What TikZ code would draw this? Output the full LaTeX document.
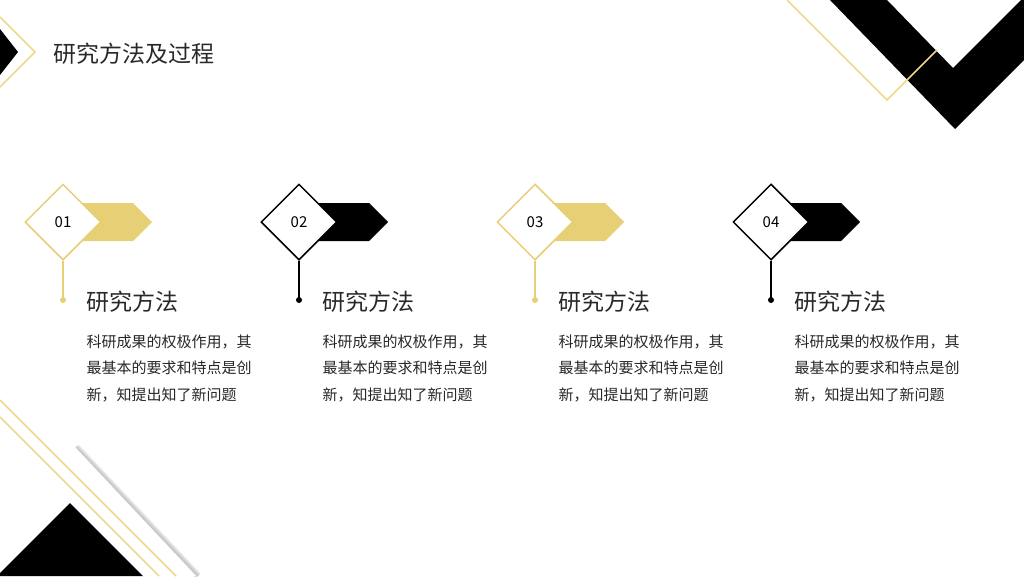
\documentclass[tikz,border=0pt]{standalone}
\usepackage{fontspec}
\setmainfont{Noto Sans CJK SC}
\usetikzlibrary{calc,shapes.geometric}
\definecolor{gold}{RGB}{230,207,116}
\definecolor{goldline}{RGB}{236,218,140}
\definecolor{txt}{RGB}{40,40,40}
\tikzset{
	numbox/.style={diamond,draw=#1,line width=1.5pt,fill=white,minimum width=76pt,minimum height=76pt,inner sep=0pt,font=\fontsize{15}{15}\selectfont},
	headtext/.style={anchor=west,text=txt,font=\fontsize{23}{23}\selectfont},
	bodytext/.style={anchor=north west,text=txt,align=left,font=\fontsize{15}{26.5}\selectfont}
}
\begin{document}
\begin{tikzpicture}[x=1pt,y=-1pt]
	\useasboundingbox (0,0) rectangle (1024,576);
	% Corner decorations
	\fill[black] (0,29) -- (18,52) -- (0,75) -- cycle;
	\draw[goldline,line width=1.5pt] (0,17) -- (35,52) -- (0,87);
	\node[anchor=west,text=txt,font=\fontsize{23}{23}\selectfont] (title) at (50,54) {研究方法及过程};
	\fill[black] (830,0) -- (955,129) -- (1024,60) -- (1024,0) -- (1021,0) -- (953,68) -- (887,0) -- cycle;
	\draw[goldline,line width=1.5pt] (787,0) -- (887,100) -- (937,50);
	% Bottom left
	\foreach \k in {1,...,8} {
		\draw[black!40,opacity=0.09,line width=\k pt] (76,447) -- (198,576);
	}
	\fill[white] (60,440) -- (74,446) -- (196,576) -- (150,576) -- cycle;
	\fill[black] (0,573) -- (70,503) -- (143,576) -- (0,576) -- cycle;
	\draw[goldline,line width=1.5pt] (0,400) -- (176,576);
	\draw[goldline,line width=1.5pt] (0,417) -- (159,576);
	% Steps
	\foreach \i/\c in {1/gold,2/black,3/gold,4/black} {
		\pgfmathsetmacro{\px}{63+(\i-1)*236}
		\fill[\c] (\px+17,203) -- (\px+70,203) -- (\px+89,222) -- (\px+70,241) -- (\px+17,241) -- cycle;
		\node[numbox=\c] (n\i) at (\px,222) {0\i};
		\coordinate (d\i) at (\px,300);
		\draw[\c,line width=1.2pt] (n\i.south) -- (d\i);
		\fill[\c] (d\i) circle (3);
		\node[headtext] (h\i) at (\px+20,302) {研究方法};
		\node[bodytext] (b\i) at (\px+20,331) {科研成果的权极作用，其\\最基本的要求和特点是创\\新，知提出知了新问题};
	}
\end{tikzpicture}
\end{document}
